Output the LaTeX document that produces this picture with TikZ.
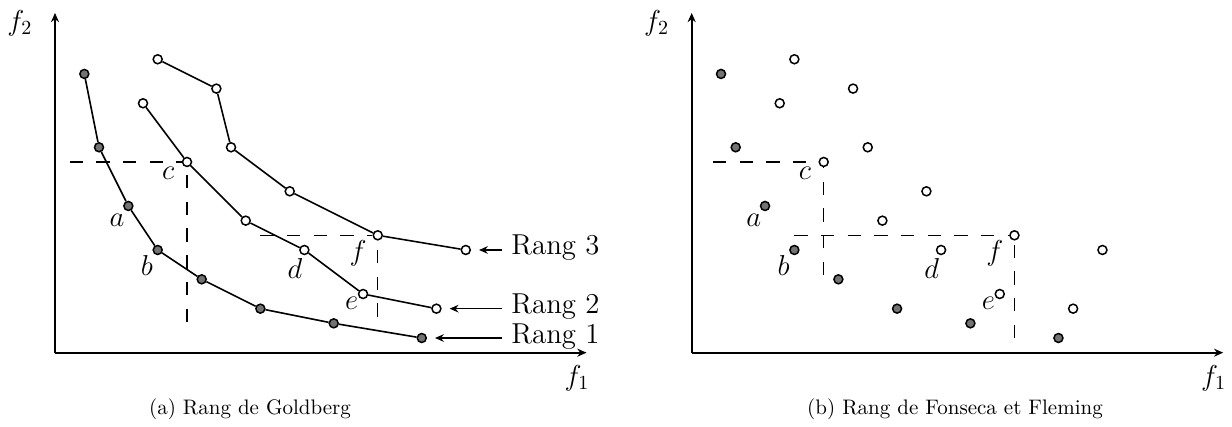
\documentclass[tikz,border=0pt]{standalone}
\usetikzlibrary{arrows.meta}

\begin{document}
\begin{tikzpicture}[
    x=7.335pt, y=7.335pt,
    font=\fontsize{14.4}{17}\selectfont,
    axis/.style={-{Stealth[length=4.6pt, width=4pt]}, line width=0.9pt},
    front/.style={line width=0.8pt},
    dot/.style={circle, draw, line width=0.75pt, minimum size=4.5pt, inner sep=0pt},
    rk1/.style={dot, fill=black!55},
    rk2/.style={dot, fill=white},
    guide/.style={line width=0.75pt, dash pattern=on 6.67pt off 6.67pt},
    rang/.style={anchor=base west, inner xsep=4.5pt, inner ysep=0pt},
    arr/.style={-{Stealth[length=4.4pt, width=3.8pt]}, line width=0.8pt, shorten >=4pt},
    subcap/.style={font=\fontsize{10.5}{12}\selectfont}
]
  \useasboundingbox (-3.749,-5.065) rectangle (80.23,24.04);

  % both panels: axes, points, letters
  \foreach \p/\dx in {L/0, R/43.4} {
    \begin{scope}[shift={(\dx,0)}]
      \draw[axis] (0,0) -- (0,23.16);
      \draw[axis] (0,0) -- (36.23,0);
      \node (f2\p) at (-2.39,22.47) {$f_2$};
      \node (f1\p) at (35.58,-1.75) {$f_1$};
      \foreach [count=\k] \x/\y in {2/19,3/14,5/10,7/7,10/5,14/3,19/2,25/1}
        \node[rk1] (\p-1-\k) at (\x,\y) {};
      \foreach [count=\k] \x/\y in {6/17,9/13,13/9,17/7,21/4,26/3}
        \node[rk2] (\p-2-\k) at (\x,\y) {};
      \foreach [count=\k] \x/\y in {7/20,11/18,12/14,16/11,22/8,28/7}
        \node[rk2] (\p-3-\k) at (\x,\y) {};
      \node (a\p) at (4.23,9.05) {$a$};
      \node (b\p) at (6.27,5.91) {$b$};
      \node (c\p) at (7.72,12.23) {$c$};
      \node (d\p) at (16.36,5.75) {$d$};
      \node (e\p) at (20.23,3.37) {$e$};
      \node (f\p) at (20.67,6.78) {$f$};
    \end{scope}
  }

  % (a) fronts
  \foreach \k [remember=\k as \j (initially 1)] in {2,...,8}
    \draw[front] (L-1-\j) -- (L-1-\k);
  \foreach \r in {2,3}
    \foreach \k [remember=\k as \j (initially 1)] in {2,...,6}
      \draw[front] (L-\r-\j) -- (L-\r-\k);

  \coordinate (Lch) at (1,13);
  \coordinate (Lcv) at (9,2.1);
  \coordinate (Lfh) at (14,8);
  \coordinate (Lfv) at (22,2.45);
  \draw[guide] (Lch) -- (L-2-2);
  \draw[guide] (Lcv) -- (L-2-2);
  \draw[guide] (Lfh) -- (L-3-5);
  \draw[guide] (Lfv) -- (L-3-5);

  \node[rang] (rang3) at (30.47,6.66) {Rang 3};
  \node[rang] (rang2) at (30.47,2.64) {Rang 2};
  \node[rang] (rang1) at (30.47,0.64) {Rang 1};
  \draw[arr] (rang3.west |- L-3-6) -- (L-3-6);
  \draw[arr] (rang2.west |- L-2-6) -- (L-2-6);
  \draw[arr] (rang1.west |- L-1-8) -- (L-1-8);

  % (b) dominance boxes
  \begin{scope}[shift={(43.4,0)}]
    \coordinate (Rch) at (1.45,13);
    \coordinate (Rcv) at (9,5.3);
    \coordinate (Rfh) at (7,8);
    \coordinate (Rfv) at (22,1);
  \end{scope}
  \draw[guide] (Rch) -- (R-2-2);
  \draw[guide] (Rcv) -- (R-2-2);
  \draw[guide] (Rfh) -- (R-3-5);
  \draw[guide] (Rfv) -- (R-3-5);

  % captions
  \node[subcap] (capa) at (13.29,-3.84) {(a)~Rang de Goldberg};
  \node[subcap] (capb) at (61.35,-3.84) {(b)~Rang de Fonseca et Fleming};
\end{tikzpicture}
\end{document}
